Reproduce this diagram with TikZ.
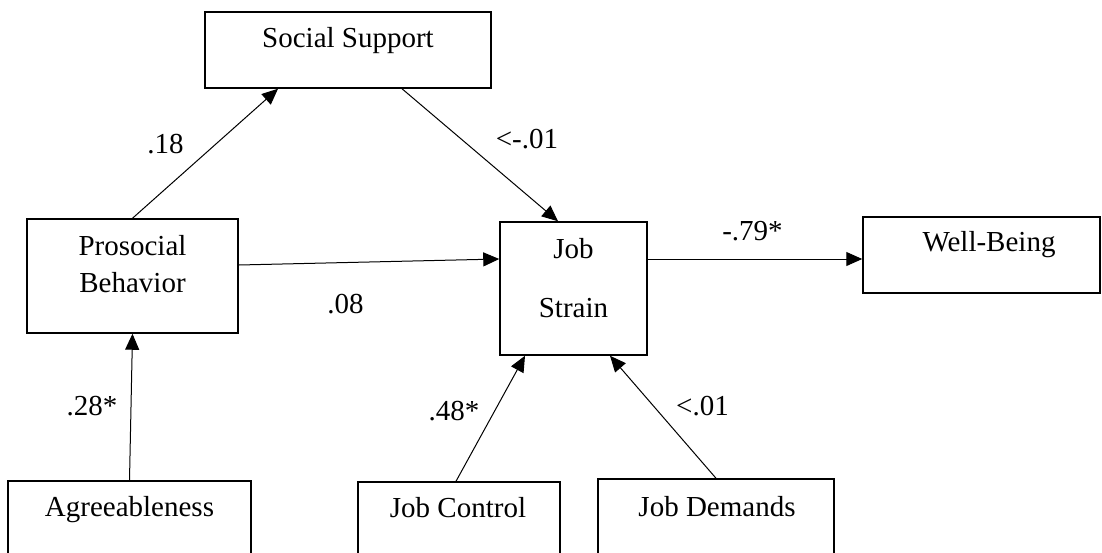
\documentclass[tikz,border=0pt]{standalone}
\usepackage{fontspec}
\setmainfont{Liberation Serif}
\usetikzlibrary{arrows.meta}

\begin{document}
\begin{tikzpicture}[x=1pt,y=-1pt,
	box/.style={draw, line width=1.5pt, inner sep=0pt},
	txt/.style={anchor=base, align=center, inner sep=0pt, font=\fontsize{29}{37}\selectfont},
	link/.style={line width=1pt, -{Triangle[length=16pt,width=14pt]}}]
	\clip (0,0) rectangle (1102,552);
	% Boxes
	\node[box, minimum width=286pt, minimum height=76pt] (ss) at (348,50) {};
	\node[box, minimum width=211pt, minimum height=114pt] (pb) at (132.5,276) {};
	\node[box, minimum width=147pt, minimum height=133pt] (js) at (573.5,288.5) {};
	\node[box, minimum width=237pt, minimum height=76pt] (wb) at (981.5,255) {};
	\node[box, minimum width=243pt, minimum height=79pt] (ag) at (129.5,520.5) {};
	\node[box, minimum width=202pt, minimum height=78pt] (jc) at (459,521) {};
	\node[box, minimum width=236pt, minimum height=81pt] (jd) at (716,519.5) {};
	% Labels
	\node[txt] (tss) at (348,47) {Social Support};
	\node[txt] (tpb) at (132.5,292) {Prosocial\\Behavior};
	\node[txt] (tjs) at (573.5,317) {Job\\[22pt]Strain};
	\node[txt] (twb) at (989,251) {Well-Being};
	\node[txt] (tag) at (129.5,516) {Agreeableness};
	\node[txt] (tjc) at (458,517) {Job Control};
	\node[txt] (tjd) at (717,516) {Job Demands};
	% Paths
	\draw[link] (pb.north) -- ([xshift=-70pt]ss.south);
	\draw[link] ([xshift=54pt]ss.south) -- ([xshift=-15.5pt]js.north);
	\draw[link] ([yshift=11pt]pb.east) -- ([yshift=29.5pt]js.west);
	\draw[link] ([yshift=29.5pt]js.east) -- ([yshift=29.5pt]js.east -| wb.west);
	\draw[link] (ag.north) -- (pb.south);
	\draw[link] ([xshift=-3pt]jc.north) -- ([xshift=-48.5pt]js.south);
	\draw[link] (jd.north) -- ([xshift=36.5pt]js.south);
	% Coefficients
	\node[txt] (c18) at (165.5,153) {.18};
	\node[txt] (c01a) at (527,148) {<-.01};
	\node[txt] (c08) at (345.5,313) {.08};
	\node[txt] (c79) at (752.5,240) {-.79*};
	\node[txt] (c28) at (92,415) {.28*};
	\node[txt] (c48) at (454,420) {.48*};
	\node[txt] (c01b) at (702.5,415) {<.01};
\end{tikzpicture}
\end{document}
